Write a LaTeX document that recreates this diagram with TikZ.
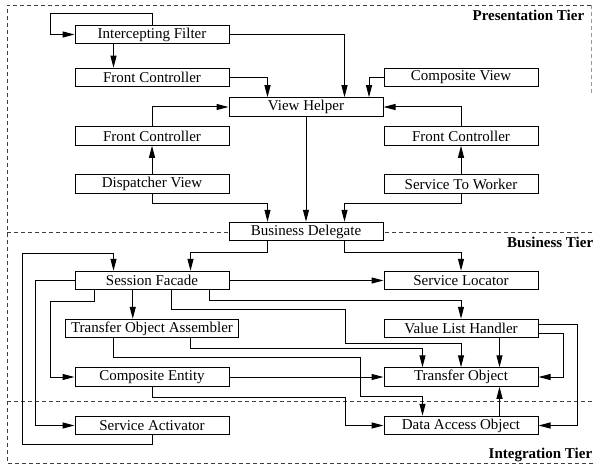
\documentclass[tikz,border=0pt]{standalone}
\usepackage{fontspec}
\setmainfont{Liberation Serif}
\usetikzlibrary{arrows.meta}

\begin{document}
\begin{tikzpicture}[x=1pt,y=-1pt,>={Triangle[length=12pt,width=6pt]},
  font=\fontsize{15}{18}\selectfont,line width=1pt,
  box/.style={draw,fill=white,minimum width=154pt,minimum height=18.5pt,inner xsep=6pt,inner ysep=0pt},
  tier/.style={black!75,line width=0.9pt,dash pattern=on 4pt off 3pt},
  tiername/.style={font=\fontsize{15}{18}\selectfont\bfseries,anchor=east}]
  \useasboundingbox (0,0) rectangle (593,465);
  % tiers
  \draw[tier] (591,5) -- (7,5) -- (7,463) -- (593,463);
  \draw[tier,black!40] (591,5) -- (591,95);
  \draw[tier] (7,232) -- (593,232);
  \draw[tier] (7,401) -- (593,401);
  \node[tiername] (ptier) at (588,15) {Presentation Tier};
  \node[tiername] (btier) at (597,242) {Business Tier};
  \node[tiername] (itier) at (596,455) {Integration Tier};
  % presentation tier
  \node[box] (filter) at (152,34.5) {Intercepting Filter};
  \node[box] (frontA) at (152,77.5) {Front Controller};
  \node[box] (compview) at (461,77.5) {Composite View};
  \node[box] (helper) at (306,107) {View Helper};
  \node[box] (frontL) at (152,136) {Front Controller};
  \node[box] (frontR) at (461,136) {Front Controller};
  \node[box] (dispatch) at (152,184) {Dispatcher View};
  \node[box] (worker) at (461,184) {Service To Worker};
  % business tier
  \node[box] (delegate) at (306,231.5) {Business Delegate};
  \node[box] (facade) at (152,280.5) {Session Facade};
  \node[box] (locator) at (461,280.5) {Service Locator};
  \node[box] (assembler) at (152,328.5) {Transfer Object Assembler};
  \node[box] (vlh) at (461,328.5) {Value List Handler};
  \node[box] (entity) at (152,377) {Composite Entity};
  \node[box] (tobj) at (461,377) {Transfer Object};
  % integration tier
  \node[box] (activator) at (152,425.5) {Service Activator};
  \node[box] (dao) at (461,425.5) {Data Access Object};
  % presentation links
  \draw[->] (filter.north) -- ++(0,-11) -| ([xshift=-24pt]filter.west) -- (filter.west);
  \draw[->] ([xshift=-38.5pt]filter.south) -- ([xshift=-38.5pt]frontA.north);
  \draw[->] (filter.east) -| ([xshift=38.5pt]helper.north);
  \draw[->] (frontA.east) -| ([xshift=-38.5pt]helper.north);
  \draw[->] (compview.west) -| ([xshift=63pt]helper.north);
  \draw[->] (frontL.north) |- (helper.west);
  \draw[->] (frontR.north) |- (helper.east);
  \draw[->] (dispatch.north) -- (frontL.south);
  \draw[->] (worker.north) -- (frontR.south);
  \draw[->] (dispatch.south) -- ++(0,10) -| ([xshift=-38.5pt]delegate.north);
  \draw[->] (worker.south) -- ++(0,10) -| ([xshift=38.5pt]delegate.north);
  \draw[->] (helper.south) -- (delegate.north);
  % business links
  \draw[->] ([xshift=38.5pt]delegate.south) -- ++(0,11.5) -| (locator.north);
  \draw[->] ([xshift=-38.5pt]delegate.south) -- ++(0,11.5) -| ([xshift=38.5pt]facade.north);
  \draw[->] (activator.south) -- ++(0,9.5) -| ++(-130,-191.5) -| ([xshift=-38.5pt]facade.north);
  \draw[->] (facade.west) -- ++(-39,0) |- (activator.west);
  \draw[->] ([xshift=-57.75pt]facade.south) -- ++(0,11.5) -| ([xshift=-24pt]entity.west) -- (entity.west);
  \draw[->] ([xshift=-19.25pt]facade.south) -- ([xshift=-19.25pt]assembler.north);
  \draw[->] ([xshift=19.25pt]facade.south) -- ++(0,19.5) -| ++(173.75,34) -| (tobj.north);
  \draw[->] ([xshift=57.75pt]facade.south) -- ++(0,10.5) -| (vlh.north);
  \draw[->] (facade.east) -- (locator.west);
  \draw[->] ([xshift=38.5pt]assembler.south) -- ++(0,10.5) -| ([xshift=-38.5pt]tobj.north);
  \draw[->] ([xshift=-38.5pt]assembler.south) -- ++(0,19.5) -| ++(246.5,39) -| ([xshift=-38.5pt]dao.north);
  \draw[->] (entity.east) -- (tobj.west);
  \draw[->] (entity.south) -- ++(0,10.5) -| ([xshift=-38pt]dao.west) -- (dao.west);
  \draw[->] ([xshift=38.5pt]vlh.south) -- ([xshift=38.5pt]tobj.north);
  \draw[->] ([yshift=-4.5pt]vlh.east) -- ++(25,0) |- (tobj.east);
  \draw[->] ([yshift=4.5pt]vlh.east) -- ++(39,0) |- (dao.east);
  \draw[->] ([xshift=38.5pt]dao.north) -- ([xshift=38.5pt]tobj.south);
\end{tikzpicture}
\end{document}
